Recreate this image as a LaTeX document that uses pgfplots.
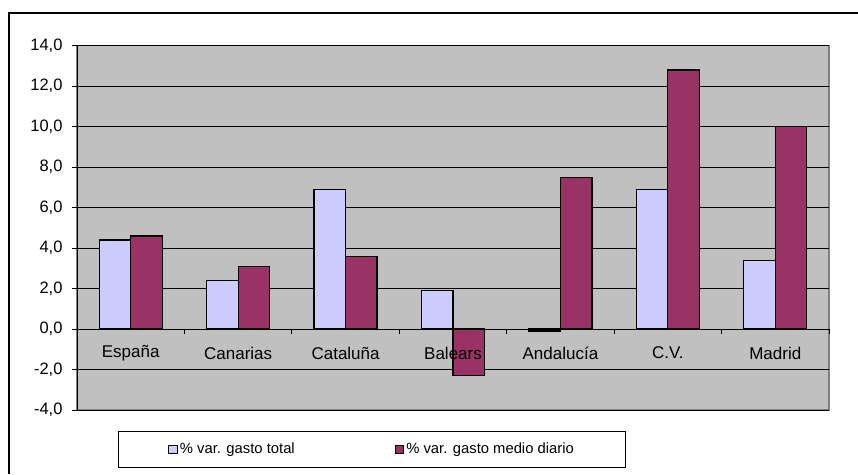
\documentclass[border=0pt]{standalone}
\usepackage{pgfplots}
\pgfplotsset{compat=1.18}
\usepackage{fontspec}
\setmainfont{Liberation Sans}
\definecolor{barblue}{HTML}{CCCCFF}
\definecolor{barmaroon}{HTML}{993366}
\definecolor{plotgray}{HTML}{C0C0C0}
\definecolor{bordergray}{HTML}{808080}
\tikzset{catlab/.style={font=\fontsize{17}{20}\selectfont, anchor=center, yshift=-24pt}}
\begin{document}
\begin{tikzpicture}[x=1pt,y=1pt]
\useasboundingbox (0,0) rectangle (858,474);
\draw[line width=1.4pt] (9,0) -- (9,461) -- (858,461);
\begin{axis}[
  at={(77pt,64pt)}, anchor=south west,
  scale only axis, width=752pt, height=364.3pt,
  xmin=-0.5, xmax=6.5, ymin=-4, ymax=14,
  axis background/.style={fill=plotgray, draw=bordergray, line width=1.5pt},
  axis x line*=middle, axis y line*=left,
  axis line style={line width=0.8pt, black},
  tick align=outside,
  xtick={0,...,6},
  xticklabels={},
  major x tick style={draw=none},
  minor xtick={-0.5,0.5,...,6.5},
  minor tick length=5pt,
  minor x tick style={black, line width=0.8pt},
  ytick={-4,-2,...,14},
  major tick length=5pt,
  y tick style={black, line width=0.8pt},
  ymajorgrids,
  grid style={black, line width=0.8pt},
  yticklabel style={font=\fontsize{16.5}{19}\selectfont, xshift=-6pt, /pgf/number format/.cd, fixed, fixed zerofill, precision=1, use comma, assume math mode=true},
  ybar=0pt, bar width=31.5pt,
  legend columns=2,
  legend style={at={(0.0545,-0.108)}, anchor=west, draw=black, line width=0.8pt, fill=white,
    font=\fontsize{14.8}{18}\selectfont, inner xsep=50pt, inner ysep=9.5pt,
    /tikz/every even column/.append style={column sep=98pt}},
  legend image code/.code={\draw[#1, line width=0.8pt] (0pt,-4.3pt) rectangle (8.7pt,4.3pt);},
]
\addplot[fill=barblue, draw=black, line width=1.2pt] coordinates {
 (0,4.4) (1,2.4) (2,6.9) (3,1.9) (4,-0.1) (5,6.9) (6,3.4)};
\addplot[fill=barmaroon, draw=black, line width=1.2pt] coordinates {
 (0,4.6) (1,3.1) (2,3.6) (3,-2.3) (4,7.5) (5,12.8) (6,10.0)};
\legend{\% var. gasto total, \% var. gasto medio diario}
\node[catlab] at (axis cs:0,0) {España};
\node[catlab] at (axis cs:1,0) {Canarias};
\node[catlab] at (axis cs:2,0) {Cataluña};
\node[catlab] at (axis cs:3,0) {Balears};
\node[catlab] at (axis cs:4,0) {Andalucía};
\node[catlab] at (axis cs:5,0) {C.V.};
\node[catlab] at (axis cs:6,0) {Madrid};
\end{axis}
\end{tikzpicture}
\end{document}
